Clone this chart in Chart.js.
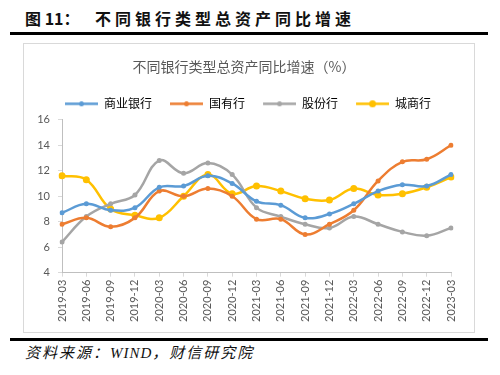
<!DOCTYPE html>
<html>
<head>
<meta charset="utf-8">
<script src="https://cdn.jsdelivr.net/npm/chart.js@4"></script>
<style>
  body { margin: 0; width: 500px; height: 375px; background: #fff; position: relative; overflow: hidden; font-family: "Noto Sans CJK SC", sans-serif; }
  .hd { position: absolute; top: 6px; font-size: 16px; font-weight: bold; color: #111; white-space: pre; }
  .rule { position: absolute; left: 10px; width: 478px; height: 3px; background: #000; }
  .box { position: absolute; left: 23px; top: 43px; width: 450px; height: 288px; border: 1px solid #D9D9D9; }
  .ft { position: absolute; left: 25px; top: 341px; font-size: 15px; font-style: italic; color: #111; letter-spacing: 2px; }
  .ft b { font-family: "Liberation Serif", serif; font-weight: normal; letter-spacing: 1px; }
</style>
</head>
<body>
<div class="hd" style="left:25px">图 11：</div>
<div class="hd" style="left:95px;letter-spacing:4px">不同银行类型总资产同比增速</div>
<div class="rule" style="top:32px"></div>
<div class="box"><canvas id="c"></canvas></div>
<div class="rule" style="top:338px"></div>
<div class="ft">资料来源：<b>WIND</b>，财信研究院</div>
<script>
// quarters
const quarters = ["2019-03", "2019-06", "2019-09", "2019-12", "2020-03", "2020-06", "2020-09", "2020-12",
  "2021-03", "2021-06", "2021-09", "2021-12", "2022-03", "2022-06", "2022-09", "2022-12", "2023-03"];

// total assets yoy growth (%)
const commercial = [8.7, 9.4, 8.9, 9.1, 10.7, 10.8, 11.6, 11.0, 9.6, 9.3, 8.3, 8.6, 9.4, 10.4, 10.9, 10.8, 11.7];
const stateOwned = [7.8, 8.3, 7.6, 8.3, 10.4, 10.0, 10.6, 10.0, 8.2, 8.2, 7.0, 7.8, 8.9, 11.2, 12.7, 12.9, 14.0];
const jointStock = [6.4, 8.4, 9.4, 10.1, 12.8, 11.8, 12.6, 11.7, 9.1, 8.4, 7.8, 7.5, 8.4, 7.8, 7.2, 6.9, 7.5];
const cityBanks = [11.6, 11.3, 9.0, 8.5, 8.3, 10.0, 11.7, 10.2, 10.8, 10.4, 9.8, 9.7, 10.6, 10.1, 10.2, 10.7, 11.5];

const yTicks = [4, 6, 8, 10, 12, 14, 16];

// legend marker: line with a dot, shifted right to widen the gap between items
function marker(color, r) {
  const cv = document.createElement("canvas");
  cv.width = 41; cv.height = 9;
  const g = cv.getContext("2d");
  g.strokeStyle = color; g.lineWidth = 2.5;
  g.beginPath(); g.moveTo(8, 4.5); g.lineTo(41, 4.5); g.stroke();
  g.fillStyle = color;
  g.beginPath(); g.arc(24.5, 4.5, r, 0, Math.PI * 2); g.fill();
  return cv;
}

function series(label, data, color, r) {
  return {
    label: label, data: data,
    borderColor: color, backgroundColor: color,
    borderWidth: 2.5, tension: 0.4,
    pointRadius: r, pointHoverRadius: r, pointBorderWidth: 0,
    pointStyle: "circle", legendMarker: marker(color, r)
  };
}

Chart.defaults.font.family = "Lato, 'Noto Sans CJK SC', sans-serif";
Chart.defaults.color = "#595959";

new Chart(document.getElementById("c"), {
  type: "line",
  data: {
    labels: quarters,
    datasets: [
      series("商业银行", commercial, "#5B9BD5", 2.5),
      series("国有行", stateOwned, "#ED7D31", 2.5),
      series("股份行", jointStock, "#A5A5A5", 2.5),
      series("城商行", cityBanks, "#FFC000", 3.5)
    ]
  },
  options: {
    responsive: true,
    maintainAspectRatio: false,
    animation: false,
    layout: { padding: { left: 13, right: 23, top: 0, bottom: 7 } },
    plugins: {
      title: {
        display: true,
        text: "不同银行类型总资产同比增速（%）",
        color: "#595959",
        font: { size: 14, weight: "normal", family: "'Noto Sans CJK SC', sans-serif" },
        padding: { top: 14, bottom: 13 }
      },
      legend: {
        labels: {
          usePointStyle: true,
          pointStyleWidth: 41,
          padding: 10,
          font: { size: 12, family: "'Noto Sans CJK SC', sans-serif" },
          color: "#595959",
          generateLabels: chart => chart.data.datasets.map((ds, i) => ({
            text: ds.label, pointStyle: ds.legendMarker, datasetIndex: i,
            fillStyle: ds.borderColor, strokeStyle: ds.borderColor, lineWidth: 0, hidden: false
          }))
        }
      },
      tooltip: { enabled: false }
    },
    scales: {
      x: {
        offset: false,
        grid: { drawOnChartArea: false, drawTicks: true, tickLength: 4, color: "#D9D9D9" },
        border: { color: "#BFBFBF" },
        ticks: { minRotation: 90, maxRotation: 90, autoSkip: false, font: { size: 11 }, padding: 3 }
      },
      y: {
        min: 4, max: 16,
        afterBuildTicks: s => { s.ticks = yTicks.map(v => ({ value: v })); },
        afterFit: s => { s.width = 25; },
        grid: { drawOnChartArea: false, drawTicks: true, tickLength: 4, color: "#D9D9D9" },
        border: { color: "#BFBFBF" },
        ticks: { font: { size: 11 }, padding: 8 }
      }
    }
  }
});
</script>
</body>
</html>
